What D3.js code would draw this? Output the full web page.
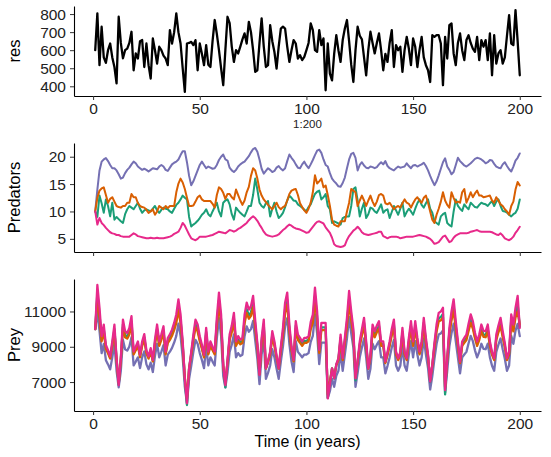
<!DOCTYPE html>
<html><head><meta charset="utf-8">
<script src="https://cdn.jsdelivr.net/npm/d3@7"></script>
<style>
body{margin:0;background:#fff;}
svg text{font-family:"Liberation Sans",Arial,sans-serif;}
</style></head><body>
<svg id="chart" width="551" height="457"></svg>
<script>
// ---------- data ----------
const xTicks = [0, 50, 100, 150, 200];
const resTicks = [400, 500, 600, 700, 800];
const predTicks = [5, 10, 15, 20];
const preyTicks = [7000, 9000, 11000];
const seriesNames = ["purple", "green", "orange", "pink"];
const seriesColors = {purple:"#7570B3", green:"#1B9E77", orange:"#D95F02", pink:"#E7298A"};

const res = [600,804,517,730,560,530,600,637,560,507,416,785,640,555,600,609,640,702,489,582,
554,650,656,507,637,517,443,665,600,526,619,600,570,554,517,711,637,700,804,700,
637,500,369,637,640,646,628,656,489,637,580,517,628,520,507,650,767,690,600,500,
406,600,785,750,620,535,600,582,620,660,693,637,757,700,600,480,489,640,776,620,
507,517,739,650,590,498,620,720,730,720,620,535,600,656,637,554,572,545,563,600,
640,748,711,600,591,711,628,665,378,637,470,433,580,683,600,535,656,720,767,650,
520,424,600,730,680,660,560,461,600,702,640,582,640,693,600,489,580,535,640,711,
507,628,600,619,480,600,674,609,517,665,619,507,600,674,560,517,489,424,683,674,
683,683,637,406,674,554,739,748,582,517,640,693,600,545,656,683,640,609,591,674,
545,656,619,656,545,693,461,683,526,582,600,526,560,680,794,637,628,822,650,461];

const predPurple = [10,14,17.5,19.1,19.5,19.75,19.2,18.5,17.9,17.9,17.5,16.8,16,16.2,17,17.6,18,18.6,19.1,18.8,
18.2,17.9,17.6,17.8,17.6,17.3,17.6,17.9,17.8,17.7,18.2,18.5,18.2,17.6,17.4,18,18.6,18.9,19.1,19.5,
20.3,21,21,19,16.5,14.8,15.5,16.5,17.5,18.5,19.1,18.5,17.9,18.2,18,17.8,17.9,18.5,19.4,20,
20.4,19.5,19.3,18,17.5,17.2,17.6,18.2,18.6,18.9,19.1,19.6,20.1,20.8,21.4,21.6,20.9,19.5,17.8,16.9,
17.4,17.9,17.6,17.2,17.4,18,18.3,17.8,17.5,17.9,19.2,20.4,19.8,19.3,18.6,18,17.9,18.6,19.1,18.4,
17.9,18.6,19.4,20.3,21.1,21.3,20.7,19.5,18.5,18.2,17,16,15.5,15.1,14.6,14.5,15.2,16.2,17.9,19.5,
20.5,20.7,19.8,17.5,18.5,19,18.4,18,17.9,18.2,18.1,17.9,18.1,18.6,19,18.6,19.2,18.3,17.9,17.7,
17.5,17.9,18.2,18,18.1,18.2,18.8,18.3,17.9,18.4,18.5,18.2,18.4,18.6,18.9,18.3,17.5,16.5,15.6,14.8,
15.5,16.6,17.8,19,19.7,18.2,17.6,16.8,17.2,18.5,19.8,19.2,18.8,18.4,18.2,18.5,18.8,19.2,19.6,19.8,
19.7,19.5,19.2,18.8,19,19.4,19.3,18.7,18.2,18,17.9,18.6,19,18.3,17.7,17.3,18.2,19.3,19.8,20.6];

const predOrange = [10,12.5,13.8,14.2,14.4,13,11.6,12.3,12.6,11.8,11,10.8,10.7,11,11,11.6,11.6,13.2,12.6,12.6,
11.5,11,10.8,10.7,10.3,9.75,10,10.4,9.4,10,11,10.7,10.4,11,10.6,11,11,11,13.5,15.1,
16,15.3,14.1,12.5,11,11,11.1,11.8,12.6,12.9,12.2,11.9,11.9,11.9,11.9,11.4,10.7,13,14.4,14.1,
13.4,12.3,13.2,13.2,12.6,12.2,14,13,12,11.2,12,13.5,14.5,16.5,17.9,17.5,16,14,12.9,12.2,
11.7,11.2,10.8,10.4,11,11.6,10.8,10.4,10.8,11,12,13.2,13.8,14,14.1,13,11.5,10.8,10.2,9.75,
10.5,11.6,13.5,16.6,15.1,15.5,16,14.4,14.75,13,11,8.5,7.6,7.4,7.25,8.2,8.2,8.2,10,11.6,
14.1,13.8,13.5,11,12,12.9,12,11,12,12.9,11.8,11,11.8,13,13.2,12.9,11.5,11.3,11.6,11,
10.4,10.8,11,10.7,11.5,12.2,11.6,11.4,10.7,11.5,12.2,12.6,12,11.6,12.5,12.9,11.6,10,8.5,7.9,
9.4,10.5,11.8,13.5,12,11.2,10.7,13.5,12.5,11.6,11.8,11.6,13.5,14.1,11.6,12.5,13.5,12.6,13.3,13.8,
12.9,12.9,12.6,12.7,12.8,12.9,12,11.6,12.6,12,11.3,11,10.4,10,9.4,11,11.8,14,15.4,14.75];

const predGreen = [10,9,12.9,11.5,9.75,12.2,11,9.1,11.6,8.5,9,8.6,8.2,7.9,9.5,10.4,11,10.7,10.4,11,
11.6,10.5,9.75,10.2,10.4,10.2,10.06,10.5,11,10.2,9.75,10.3,10.7,10.5,10.4,10,9.75,10.5,11.2,11.6,
12.2,12.9,12.5,12.2,9,7.25,7.6,7.9,8.3,8.8,9.4,9.75,10.4,9.5,9.1,10,10.8,11.6,10,9.1,
11.6,12,12.2,11.3,9.5,8.5,10.7,10.2,9.75,9.4,9.1,10,11,11,13,16,14,11.6,11,10.7,
11.5,11.9,9.1,10.5,11.6,10,8.8,9.2,9.75,10.8,12,12.9,12.5,12,11.9,11.3,11,10.7,10.3,10.1,
10.8,11.3,12.3,13.2,13.6,13.8,12.2,12.6,13.2,11,10.4,7.9,8.2,8,7.8,7.6,8.8,9,9.1,9.1,
11,14.1,14.4,12,9.1,10.5,11.6,8.8,9.5,10.7,10.5,10,9.75,10.5,11.3,9.75,10.2,10.4,8.8,9.9,
11,10.2,9.4,10.5,11.6,9.1,9.9,10.5,10,9.4,10.5,11.5,12.2,11.2,10.7,11.5,12.2,10.5,9.75,8.2,
7.9,7.6,9.1,9.5,9.75,7.9,7.5,7.25,10,12.2,11,10.5,10.1,11.3,10.8,10.4,11.6,11.2,10.8,10.7,
11.2,11.6,11.4,11.3,11,11.5,11.9,11,11.8,12.2,11,10.1,10,9.8,9.4,9.1,9.5,9.75,10.5,12.2];

const predPink = [10,7.6,8.8,7.9,7.5,7,6.6,6.2,6,5.9,5.7,5.7,5.5,5.4,5.4,5.4,5.4,5.7,6,5.8,
5.5,5.4,5.3,5.2,5.1,5.1,5.2,5.1,5.1,5.2,5.1,5.1,5.1,5.2,5.3,5.4,5.6,5.9,6.1,6.3,
7,7.9,7.4,6.6,5.8,5.1,4.9,4.75,5,5.4,5.4,5.4,5.4,5.5,5.6,5.7,5.9,6.1,6.3,6.2,
6.1,6,6.3,6.6,6.5,6.3,6.5,6.8,7,7.3,7.6,7.9,8.4,8.8,9.1,8.8,8.3,7.6,7,6.3,
5.8,5.6,5.5,5.4,5.5,5.6,5.8,6.2,6.6,6.9,7.3,7.6,7.4,7.1,6.9,6.8,6.7,6.5,6.3,6.1,
6.2,6.7,7.2,7.7,8.1,8.2,8,7.8,7.1,6.6,6.1,5.2,4,3.7,3.6,3.5,3.6,3.8,4.8,5.5,
6,6.5,6.8,7.2,6.8,6.2,5.9,5.8,5.7,5.8,5.9,6,6.1,6.3,6.3,5.5,5.3,5.1,5.3,5.4,
5.4,5.4,5.3,5.1,5.2,5.3,5.4,5.4,5.4,5.4,5.5,5.6,5.7,5.6,5.5,5.4,5.2,5,4.6,4.1,
4.2,4.4,4.9,5.4,5.6,5,4.4,4.6,5.2,5.6,5.8,6,6,6,6,6.1,6.3,6.4,6.5,6.6,
6.4,6.3,6.3,6.3,6.3,6.3,6.2,6,5.8,5.7,6,5.6,5.1,4.9,4.75,5,5.4,6.1,6.6,7.2];

const preyPink = [10000,12500,11200,9600,10250,9100,8800,8450,9300,10250,8350,6830,8350,10540,9880,9780,10060,10730,8730,9000,
9300,8540,9300,9720,8800,8450,8920,8260,9400,10260,9300,9700,10160,8730,9490,9700,9970,10350,10830,11690,
10830,9300,7210,5800,7780,8700,9690,10540,10260,9600,9110,8540,10070,8730,9300,9000,8730,10640,12070,10830,
7970,6830,8200,9690,10200,10920,9300,9600,9400,9490,10800,11500,11110,11300,11880,10500,9200,7400,9500,10540,
7780,8200,8730,9880,9300,8500,7780,9000,10070,11500,12070,10260,9000,8260,10450,9690,9500,9300,9500,9500,
9600,10400,10830,12350,11020,8830,10350,10350,10350,6070,6900,7780,7210,8000,8350,9690,8350,9500,10640,12160,
11000,10000,7210,8200,9300,10000,10640,9300,7780,8500,10260,9880,10200,10450,9300,9300,8160,8700,9300,10000,
10540,8730,8350,8700,10070,8730,8350,9500,10450,9300,10450,9500,8730,9300,10640,9500,8540,7020,7970,9200,
10260,10920,11000,11210,6540,8350,10070,11000,11690,10450,9300,8160,9300,9500,9690,10300,10830,10450,9800,9300,
9690,10260,9900,9880,10260,9300,8700,8350,9690,10200,10640,9880,9200,8350,8730,10830,10260,11200,11880,10070];

const preyOrange = [10000,11770,10670,9310,9860,8880,8630,8330,9050,9860,8240,6950,8240,10100,9540,9460,9700,10270,8570,8800,
9050,8400,9050,9410,8630,8330,8730,8170,9140,9870,9050,9390,9780,8570,9210,9390,9620,9940,10350,11080,
10350,9050,7270,6080,7760,8540,9380,10100,9870,9310,8890,8400,9700,8570,9050,8800,8570,10190,11400,10350,
7920,6950,8120,9380,9820,10430,9050,9310,9140,9210,10330,10920,10590,10750,11240,10070,8970,7440,9220,10100,
7760,8120,8570,9540,9050,8370,7760,8800,9700,10920,11400,9870,8800,8170,10030,9380,9220,9050,9220,9220,
9310,9990,10350,11640,10510,8650,9940,9940,9940,6300,7010,7760,7270,7950,8240,9380,8240,9220,10190,11480,
10500,9650,7270,8120,9050,9650,10190,9050,7760,8370,9870,9540,9820,10030,9050,9050,8080,8540,9050,9650,
10100,8570,8240,8540,9700,8570,8240,9220,10030,9050,10030,9220,8570,9050,10190,9220,8400,7110,7920,8970,
9870,10430,10500,10670,6700,8240,9700,10500,11080,10030,9050,8080,9050,9220,9380,9900,10350,10030,9480,9050,
9380,9870,9560,9540,9870,9050,8540,8240,9380,9820,10190,9540,8970,8240,8570,10350,9870,10670,11000,10250];

const preyGreen = [10000,12030,10860,9420,10000,8970,8700,8390,9150,10000,8300,6850,8300,10270,9670,9580,9830,10440,8640,8880,
9150,8470,9150,9530,8700,8390,8810,8210,9240,10010,9150,9510,9920,8640,9320,9510,9750,10100,10530,11300,
10530,9150,7200,5700,7780,8610,9500,10270,10010,9420,8980,8470,9840,8640,9150,8880,8640,10360,11640,10530,
7950,6700,8160,9500,9960,10610,9150,9420,9240,9320,10500,11130,10780,10950,11470,10230,9060,7440,9330,10270,
7780,8160,8640,9670,9150,8430,7780,8880,9840,11130,11640,10010,8880,8210,10190,9500,9330,9150,9330,9330,
9420,10140,10530,11900,10700,8730,10100,10100,10100,6100,6990,7780,7200,7980,8300,9500,8300,9330,10360,11720,
10680,9780,7100,8160,9150,9780,10360,9150,7780,8430,10010,9670,9960,10190,9150,9150,8120,8610,9150,9780,
10270,8640,8300,8610,9840,8640,8300,9330,10190,9150,10190,9330,8640,9150,10360,9330,8470,7000,7950,9060,
10010,10610,10680,10870,6300,8300,9840,10680,11300,10190,9150,8120,9150,9330,9500,10050,10530,10190,9600,9150,
9500,10010,9690,9670,10010,9150,8610,8300,9500,9960,10360,9670,9060,8300,8640,10530,10010,10860,11400,10150];

const preyPurple = [10000,10960,9920,8640,9160,8240,8000,7720,8400,9160,7640,6700,7640,9390,8860,8780,9010,9540,7940,8160,
8400,7790,8400,8740,8000,7720,8100,7570,8480,9170,8400,8720,9090,7940,8550,8720,8940,9240,9620,10310,
9620,8400,6730,5800,7180,7920,8710,9390,9170,8640,8250,7790,9020,7940,8400,8160,7940,9470,10620,9620,
7340,6700,7520,8710,9120,9700,8400,8640,8480,8550,9600,10160,9850,10000,10460,9360,8320,6880,8560,9390,
7180,7520,7940,8860,8400,7760,7180,8160,9020,10160,10620,9170,8160,7570,9320,8710,8560,8400,8560,8560,
8640,9280,9620,10840,9780,8020,9240,9240,9240,6100,6480,7180,6730,7360,7640,8710,7640,8560,9470,10690,
9760,8960,6730,7520,8400,8960,9470,8400,7180,7760,9170,8860,9120,9320,8400,8400,7490,7920,8400,8960,
9390,7940,7640,7920,9020,7940,7640,8560,9320,8400,9320,8560,7940,8400,9470,8560,7790,6580,7340,8320,
9170,9700,9760,9930,6400,7640,9020,9760,10310,9320,8400,7490,8400,8560,8710,9200,9620,9320,8800,8400,
8710,9170,8880,8860,9170,8400,7920,7640,8710,9120,9470,8860,8320,7640,7940,9620,9170,9920,10300,9600];

// ---------- drawing ----------
const time = d3.range(1, 201);
const svg = d3.select("#chart");
const L = 74, R = 541;

function expand(ext){ const d = (ext[1]-ext[0])*0.05; return [ext[0]-d, ext[1]+d]; }
const x = d3.scaleLinear().domain(expand(d3.extent(time))).range([L, R]);

const panels = [
  {title:"res", top:6, bottom:96, series:[{values:res, color:"#000"}], ticks:resTicks, xlabels:true, lw:2.3},
  {title:"Predators", top:143, bottom:252, series:[
     {values:predPurple, color:seriesColors.purple},
     {values:predGreen, color:seriesColors.green},
     {values:predOrange, color:seriesColors.orange},
     {values:predPink, color:seriesColors.pink}], ticks:predTicks, xlabels:false, lw:2},
  {title:"Prey", top:279, bottom:411, series:[
     {values:preyPurple, color:seriesColors.purple},
     {values:preyGreen, color:seriesColors.green},
     {values:preyOrange, color:seriesColors.orange},
     {values:preyPink, color:seriesColors.pink}], ticks:preyTicks, xlabels:true, lw:2.3}
];

panels.forEach(p => {
  const all = p.series.flatMap(s => s.values);
  const y = d3.scaleLinear().domain(expand(d3.extent(all))).range([p.bottom, p.top]);
  const g = svg.append("g");
  const line = d3.line().x((d,i)=>x(time[i])).y(d=>y(d));
  p.series.forEach(s => {
    g.append("path").datum(s.values).attr("d", line)
      .attr("fill","none").attr("stroke", s.color).attr("stroke-width", p.lw)
      .attr("stroke-linejoin","round").attr("stroke-linecap","round");
  });
  // y axis
  const ya = svg.append("g").attr("transform",`translate(${L},0)`)
    .call(d3.axisLeft(y).tickValues(p.ticks).tickFormat(d3.format("d")).tickSize(4).tickPadding(4).tickSizeOuter(0));
  ya.select(".domain").attr("stroke","#000").attr("stroke-width",1.1);
  ya.selectAll(".tick line").attr("stroke","#333");
  ya.selectAll(".tick text").attr("font-size",15.5).attr("fill","#222")
    .style("font-family",'"Liberation Sans",Arial,sans-serif');
  // x axis
  const xa = svg.append("g").attr("transform",`translate(0,${p.bottom})`)
    .call(d3.axisBottom(x).tickValues(xTicks).tickSize(4).tickPadding(3).tickSizeOuter(0)
      .tickFormat(p.xlabels ? d3.format("d") : ()=>""));
  xa.select(".domain").attr("stroke","#000").attr("stroke-width",1.1);
  xa.selectAll(".tick line").attr("stroke","#333");
  xa.selectAll(".tick text").attr("font-size",15.5).attr("fill","#222")
    .style("font-family",'"Liberation Sans",Arial,sans-serif');
  // y title
  svg.append("text").attr("transform",`translate(20,${(p.top+p.bottom)/2}) rotate(-90)`)
    .attr("text-anchor","middle").attr("font-size",16.5).attr("fill","#000").text(p.title);
});

svg.append("text").attr("x",(L+R)/2).attr("y",128).attr("text-anchor","middle")
  .attr("font-size",11.5).attr("fill","#222").text("1:200");
svg.append("text").attr("x",(L+R)/2).attr("y",447).attr("text-anchor","middle")
  .attr("font-size",16).attr("fill","#000").text("Time (in years)");
</script>
</body></html>
